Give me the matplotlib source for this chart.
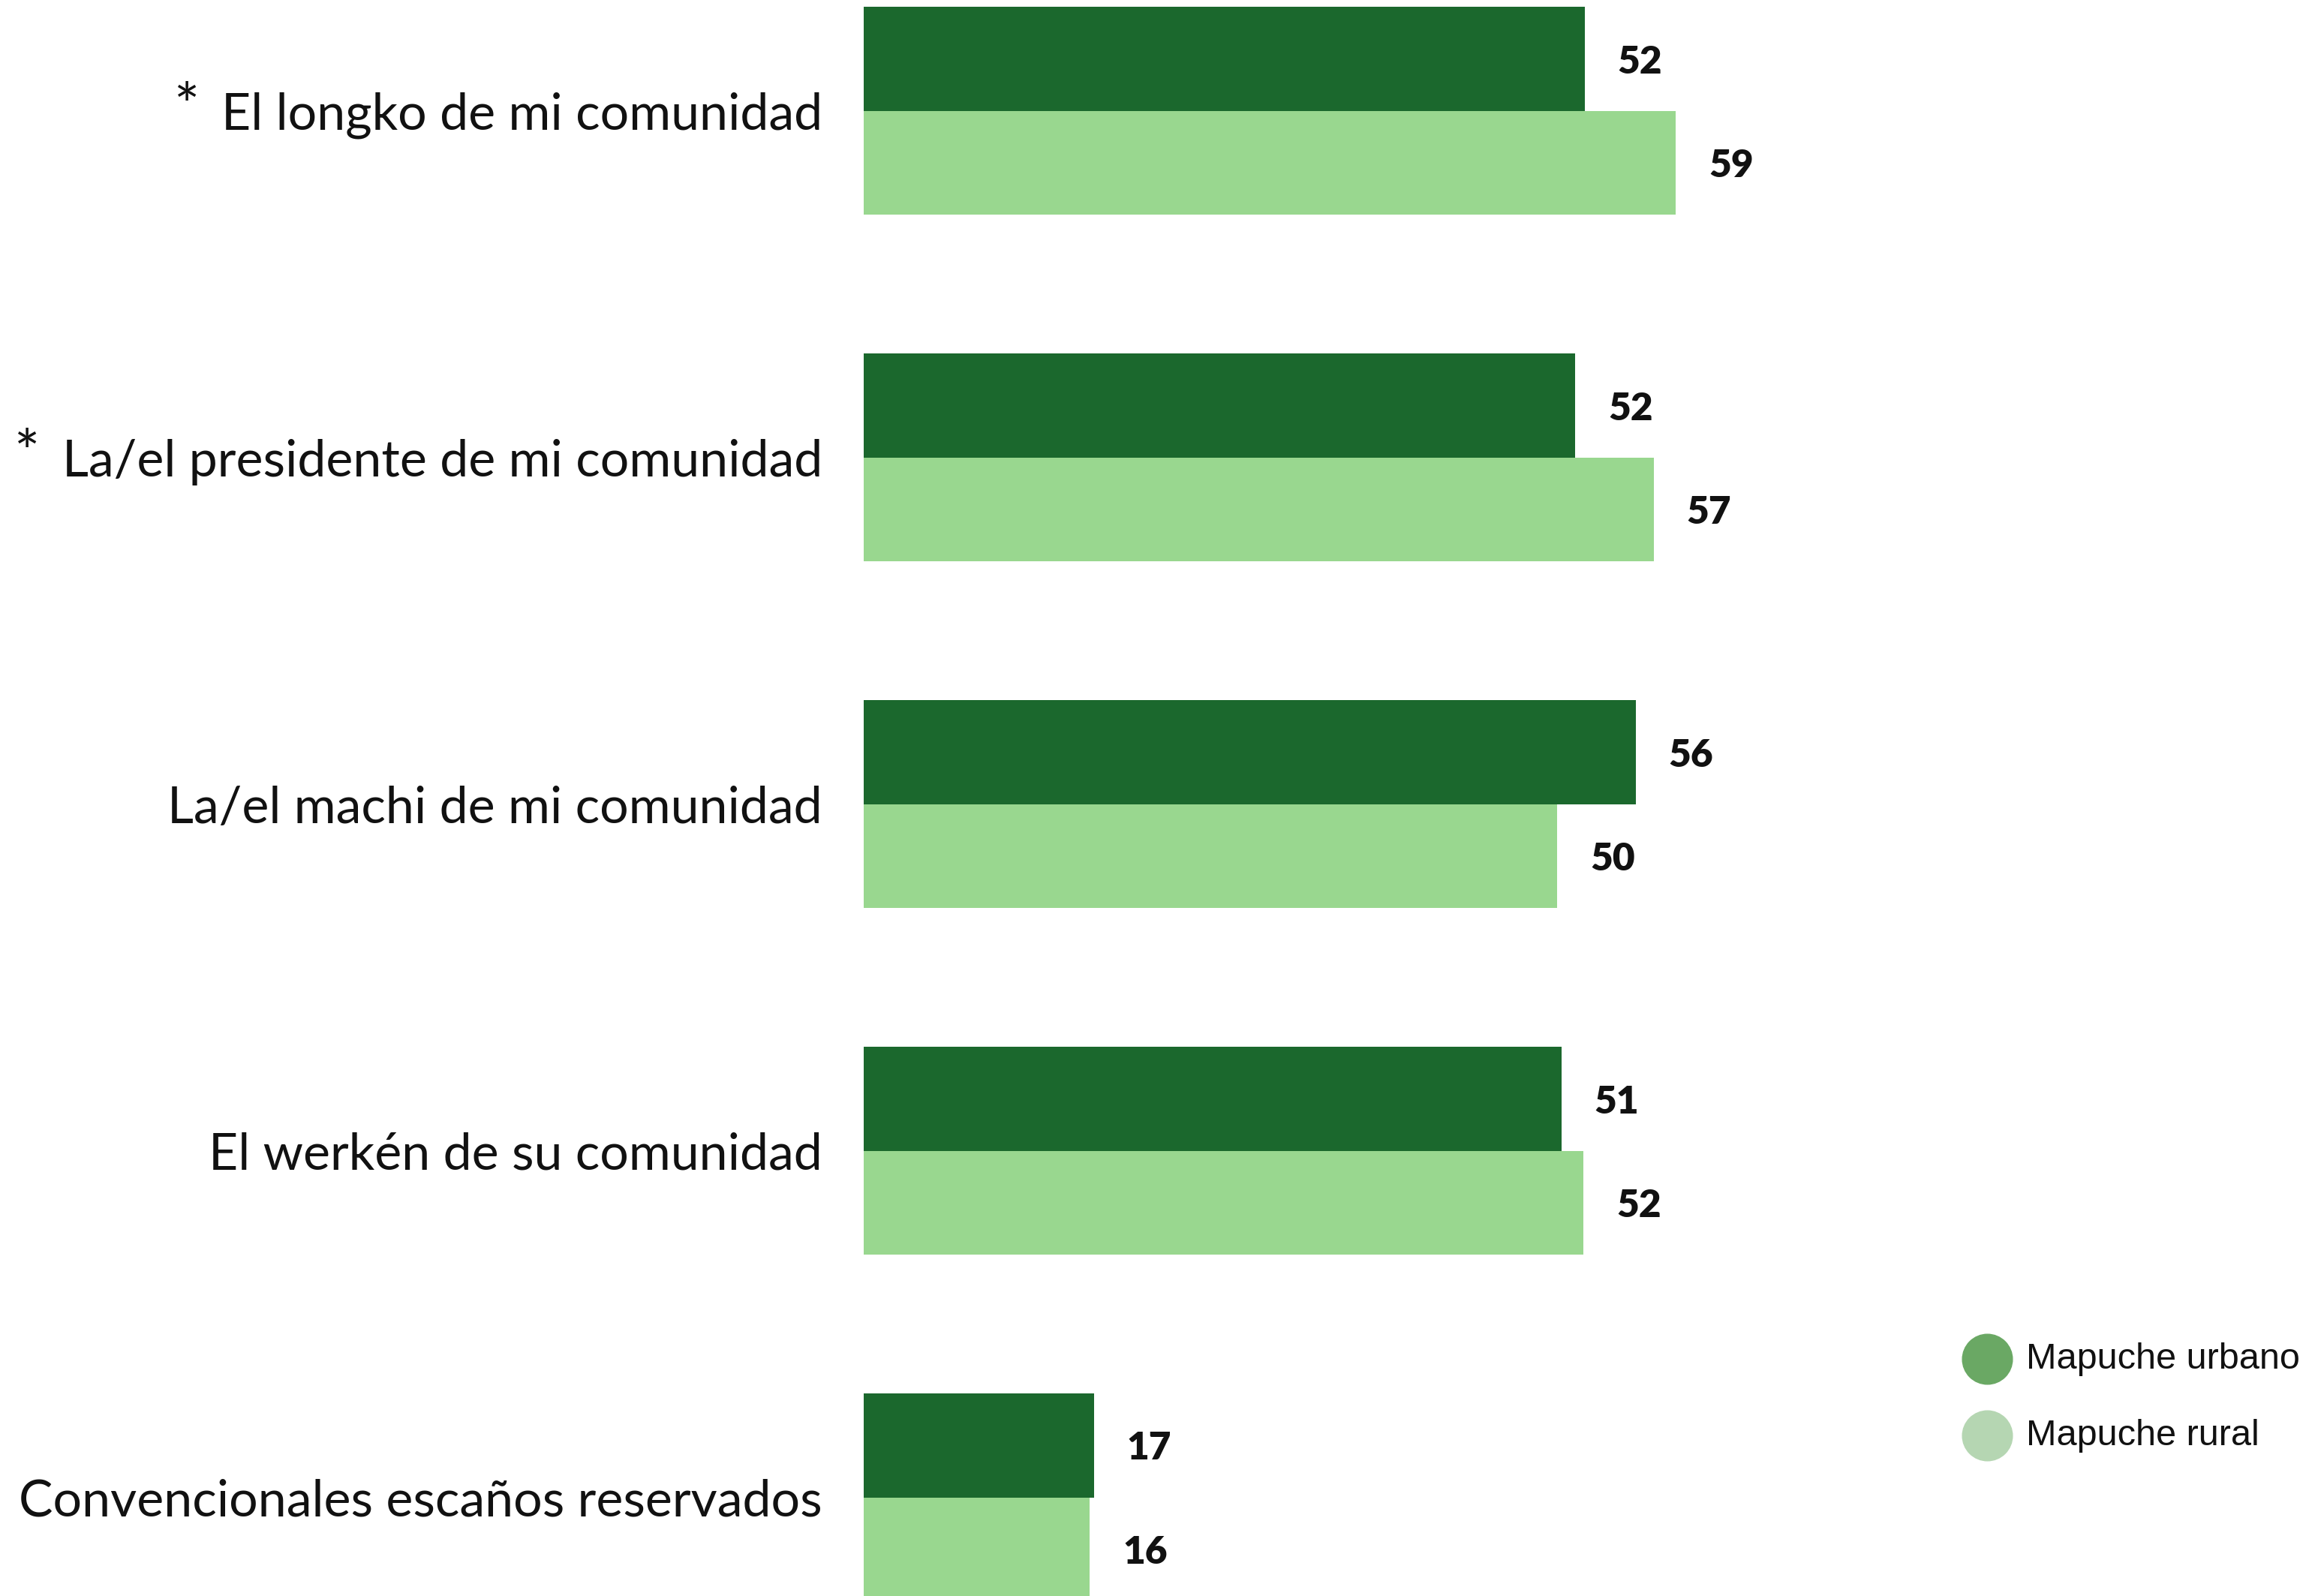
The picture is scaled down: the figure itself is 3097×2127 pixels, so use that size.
import matplotlib
matplotlib.use("Agg")
import matplotlib.pyplot as plt
from matplotlib.lines import Line2D
import numpy as np

categories = [
    "El longko de mi comunidad",
    "La/el presidente de mi comunidad",
    "La/el machi de mi comunidad",
    "El werkén de su comunidad",
    "Convencionales escaños reservados",
]
starred = [True, True, False, False, False]
urbano = [52.3, 51.6, 56.0, 50.6, 16.7]
rural = [58.9, 57.3, 50.3, 52.2, 16.4]
series_names = ["Mapuche urbano", "Mapuche rural"]

W, H = 3097, 2127
DPI = 100
fig = plt.figure(figsize=(W / DPI, H / DPI), dpi=DPI)
fig.patch.set_facecolor("white")

left_px = 1151
ax = fig.add_axes([left_px / W, 0, 1 - left_px / W, 1])
ax.set_xlim(0, (W - left_px) / 18.37)
ax.set_ylim(4.284, -0.32)
ax.axis("off")

dark = "#1b682d"
light = "#99d78f"
h = 0.3
y = np.arange(len(categories))

b1 = ax.barh(y - h / 2, urbano, height=h, color=dark, linewidth=0)
b2 = ax.barh(y + h / 2, rural, height=h, color=light, linewidth=0)

val_font = dict(family="Lato", fontweight="heavy", fontsize=37, color="#111111")
for bars, vals in ((b1, urbano), (b2, rural)):
    for rect, v in zip(bars, vals):
        ax.annotate(f"{round(v)}", xy=(rect.get_width(), rect.get_y() + rect.get_height() / 2),
                    xytext=(44, -4), textcoords="offset pixels", ha="left", va="center", **val_font)

lab_font = dict(family="Lato", fontsize=49, color="#111111")
for i, (c, s) in enumerate(zip(categories, starred)):
    t = ax.annotate(c, xy=(0, i), xytext=(-55, -6), textcoords="offset pixels",
                    ha="right", va="center", **lab_font)
    if s:
        ax.annotate("*", xy=(0, 1), xycoords=t, xytext=(-30, 14), textcoords="offset pixels",
                    ha="right", va="top", family="Lato", fontsize=58, color="#111111")

# legend
leg_colors = ["#6aa864", "#b5d6b2"]
leg_y = [1811, 1913]
for col, ly, name in zip(leg_colors, leg_y, series_names):
    fig.add_artist(Line2D([2648 / W], [1 - ly / H], marker="o", markersize=48,
                          markerfacecolor=col, markeredgecolor=col, linestyle="none",
                          transform=fig.transFigure))
    fig.text(2700 / W, 1 - ly / H, name, family="Liberation Sans", fontsize=35,
             color="#111111", ha="left", va="center")

fig.savefig("out.png", dpi=DPI, facecolor="white")
